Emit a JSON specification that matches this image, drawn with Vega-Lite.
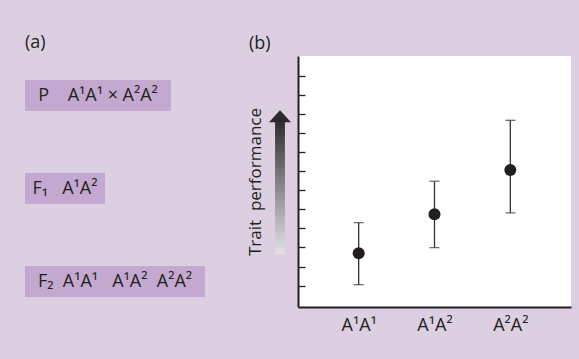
{
  "$schema": "https://vega.github.io/schema/vega-lite/v6.json",
  "background": "#dccfe2",
  "padding": {"left": 24, "top": 34, "right": 9, "bottom": 30},
  "config": {
    "font": "Open Sans",
    "view": {"stroke": null},
    "title": {"fontSize": 18, "fontWeight": "normal", "color": "#231f20", "anchor": "start", "baseline": "alphabetic"}
  },
  "datasets": {
    "panels": [{"panel": "(a)"}],
    "crosses": [
      {"gen": "P", "label": "P\u00a0\u00a0\u00a0\u00a0A¹A¹ × A²A²"},
      {"gen": "F1", "label": "F₁\u00a0\u00a0\u00a0A¹A²"},
      {"gen": "F2", "label": "F₂\u00a0\u00a0A¹A¹\u00a0\u00a0\u00a0A¹A²\u00a0\u00a0A²A²"}
    ],
    "genotypes": [
      {"genotype": "A¹A¹", "mean": 2.70, "lo": 1.05, "hi": 4.30},
      {"genotype": "A¹A²", "mean": 4.74, "lo": 2.99, "hi": 6.47},
      {"genotype": "A²A²", "mean": 7.06, "lo": 4.81, "hi": 9.66}
    ],
    "arrow": [{"from": 2.66, "to": 9.6, "head": 9.56}]
  },
  "bounds": "flush",
  "spacing": 244,
  "hconcat": [
    {
      "spacing": 23,
      "bounds": "flush",
      "vconcat": [
        {
          "title": {"text": "(a)", "offset": 3.3, "frame": "group"},
          "width": 180, "height": 1,
          "data": {"name": "panels"},
          "mark": {"type": "rule", "opacity": 0},
          "encoding": {}
        },
        {
          "spacing": 62,
          "bounds": "flush",
          "vconcat": [
            {
              "width": 146, "height": 31,
              "view": {"fill": "#c3a9d0", "stroke": null},
              "data": {"name": "crosses"},
              "transform": [{"filter": "datum.gen == 'P'"}],
              "mark": {"type": "text", "fontSize": 18, "color": "#231f20"},
              "encoding": {"text": {"field": "label", "type": "nominal"}}
            },
            {
              "width": 80, "height": 31,
              "view": {"fill": "#c3a9d0", "stroke": null},
              "data": {"name": "crosses"},
              "transform": [{"filter": "datum.gen == 'F1'"}],
              "mark": {"type": "text", "fontSize": 18, "color": "#231f20"},
              "encoding": {"text": {"field": "label", "type": "nominal"}}
            },
            {
              "width": 180, "height": 31,
              "view": {"fill": "#c3a9d0", "stroke": null},
              "data": {"name": "crosses"},
              "transform": [{"filter": "datum.gen == 'F2'"}],
              "mark": {"type": "text", "fontSize": 18, "color": "#231f20"},
              "encoding": {"text": {"field": "label", "type": "nominal"}}
            }
          ]
        }
      ]
    },
    {
      "title": {"text": "(b)", "offset": 3.3, "dx": 3},
      "spacing": 7,
      "bounds": "flush",
      "hconcat": [
        {
          "width": 22, "height": 251,
          "data": {"name": "arrow"},
          "layer": [
            {
              "mark": {"type": "rect", "color": {"gradient": "linear", "x1": 0, "y1": 1, "x2": 0, "y2": 0, "stops": [{"offset": 0, "color": "#e4e2e6"}, {"offset": 1, "color": "#2e2e2e"}]}},
              "encoding": {
                "x": {"datum": -0.45, "type": "quantitative", "scale": {"domain": [-1, 1], "nice": false}, "axis": null},
                "x2": {"datum": 0.45},
                "y": {"field": "from", "type": "quantitative", "scale": {"domain": [-0.12, 13.03], "nice": false, "zero": false},
                  "axis": {"title": "Trait\u00a0\u00a0performance", "titleFont": "Open Sans", "titleFontSize": 17, "titleFontWeight": "normal", "titleColor": "#231f20", "titlePadding": 5, "domain": false, "ticks": false, "labels": false, "grid": false}},
                "y2": {"field": "to"}
              }
            },
            {
              "mark": {"type": "point", "filled": true, "opacity": 1, "color": "#2b2b2b", "size": 484, "shape": "M -1 0 L 1 0 L 0 -1.1 Z"},
              "encoding": {
                "x": {"datum": 0, "type": "quantitative"},
                "y": {"field": "head", "type": "quantitative"}
              }
            }
          ]
        },
        {
          "width": 273, "height": 251,
          "view": {"fill": "white", "stroke": null},
          "data": {"name": "genotypes"},
          "encoding": {
            "x": {"field": "genotype", "type": "nominal", "sort": null, "scale": {"type": "point", "padding": 0.8},
              "axis": {"title": null, "ticks": false, "tickSize": 0, "labelAngle": 0, "labelFontSize": 18, "labelFont": "Open Sans", "labelColor": "#231f20", "labelPadding": 9, "domainColor": "#231f20", "domainWidth": 2, "grid": false}}
          },
          "layer": [
            {
              "mark": {"type": "rule", "color": "#333333", "strokeWidth": 1.3},
              "encoding": {
                "y": {"field": "lo", "type": "quantitative", "scale": {"domain": [-0.12, 13.03], "nice": false, "zero": false},
                  "axis": {"title": null, "labels": false, "values": [1,2,3,4,5,6,7,8,9,10,11,12], "tickCount": 12, "tickSize": -7, "tickWidth": 1.3, "tickColor": "#231f20", "domainColor": "#231f20", "domainWidth": 2, "grid": false}},
                "y2": {"field": "hi"}
              }
            },
            {
              "mark": {"type": "tick", "color": "#333333", "thickness": 1.3, "size": 10, "orient": "horizontal"},
              "encoding": {"y": {"field": "lo", "type": "quantitative",
                "axis": {"title": null, "labels": false, "values": [1,2,3,4,5,6,7,8,9,10,11,12], "tickCount": 12, "tickSize": -7, "tickWidth": 1.3, "tickColor": "#231f20", "domainColor": "#231f20", "domainWidth": 2, "grid": false}}}
            },
            {
              "mark": {"type": "tick", "color": "#333333", "thickness": 1.3, "size": 10, "orient": "horizontal"},
              "encoding": {"y": {"field": "hi", "type": "quantitative",
                "axis": {"title": null, "labels": false, "values": [1,2,3,4,5,6,7,8,9,10,11,12], "tickCount": 12, "tickSize": -7, "tickWidth": 1.3, "tickColor": "#231f20", "domainColor": "#231f20", "domainWidth": 2, "grid": false}}}
            },
            {
              "mark": {"type": "point", "filled": true, "opacity": 1, "color": "#231f20", "size": 144},
              "encoding": {"y": {"field": "mean", "type": "quantitative",
                "axis": {"title": null, "labels": false, "values": [1,2,3,4,5,6,7,8,9,10,11,12], "tickCount": 12, "tickSize": -7, "tickWidth": 1.3, "tickColor": "#231f20", "domainColor": "#231f20", "domainWidth": 2, "grid": false}}}
            }
          ]
        }
      ]
    }
  ]
}
